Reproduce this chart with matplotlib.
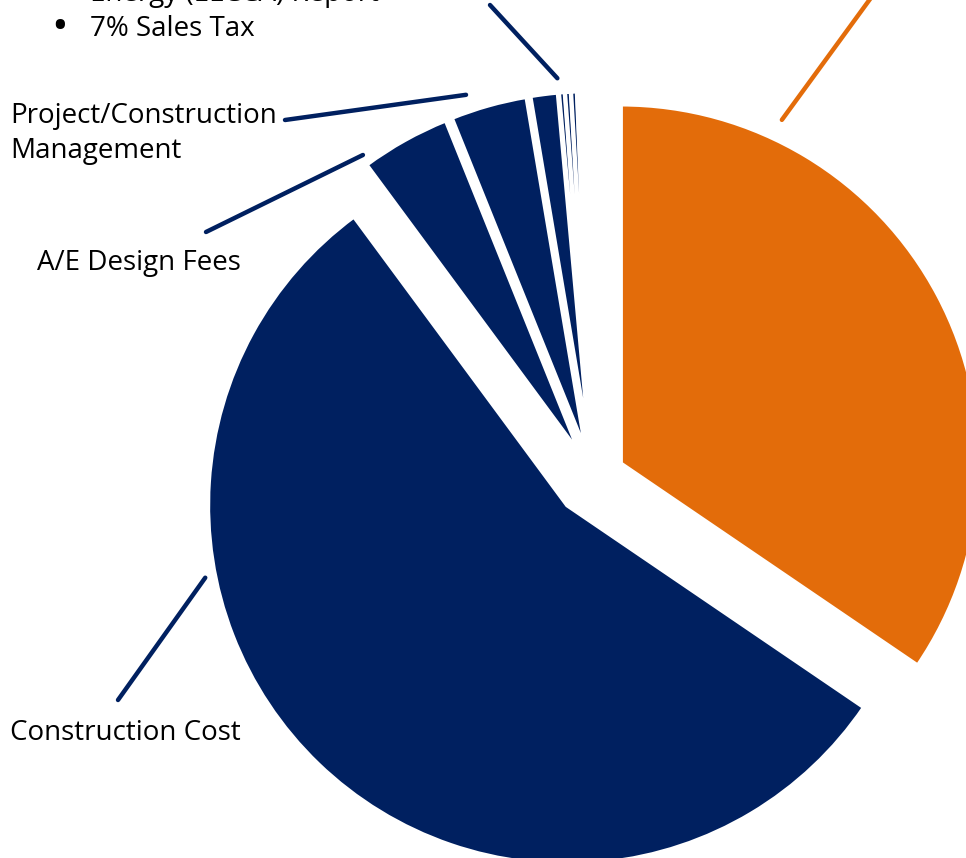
import matplotlib.pyplot as plt
import numpy as np

W, H = 966, 858

# slice shares in %, clockwise from 12 o'clock
names = ["(label outside frame)", "Construction Cost", "A/E Design Fees",
         "Project/Construction Management", "Minor item 1", "Minor item 2",
         "Minor item 3", "Minor item 4", "Minor item 5", "Minor item 6",
         "Minor item 7", "Minor item 8"]
shares = [34.5, 55.35, 4.03, 3.44, 1.22, 0.25, 0.25, 0.25, 0.17, 0.17, 0.17, 0.17]

NAVY = "#002060"
ORANGE = "#E36C0A"
colors = [ORANGE] + [NAVY] * (len(shares) - 1)
explode = [31, 38, 28, 28, 28, 28, 28, 28, 28, 28, 28, 28]  # pixels

plt.rcParams['font.family'] = ['Open Sans', 'DejaVu Sans']

fig = plt.figure(figsize=(W / 100, H / 100), dpi=100)
ax = fig.add_axes([0, 0, 1, 1])

# pie centre / radius in pixel units (y up)
cx, cy = 593.5, H - 478
R = 359
wedges, _ = ax.pie(shares, colors=colors, startangle=90, counterclock=False,
                   center=(cx, cy), radius=R, explode=explode,
                   wedgeprops=dict(edgecolor="white", linewidth=2.9))

ax.set_xlim(0, W)
ax.set_ylim(0, H)
ax.set_aspect("equal")
ax.axis("off")


def arc_point(w, ang, k):
    x0, y0 = w.center
    a = np.radians(ang)
    return (x0 + w.r * k * np.cos(a), y0 + w.r * k * np.sin(a))


# leader lines: slice, anchor angle, radius factor, far end (pixels from top-left)
leaders = [
    (0, 64.9, 1.057, (900, -42), ORANGE),
    (1, 191.3, 1.028, (118, 700), NAVY),
    (2, 126.0, 1.028, (206, 232), NAVY),
    (3, 108.6, 1.047, (285, 120), NAVY),
    (5, 95.2, 1.04, (490, 5), NAVY),
]
for i, ang, k, (tx, ty), col in leaders:
    ax.annotate("", xy=arc_point(wedges[i], ang, k), xytext=(tx, H - ty),
                arrowprops=dict(arrowstyle="-", color=col, lw=3.2,
                                shrinkA=0, shrinkB=0))

fs = 20
ax.text(10, H - 740, "Construction Cost", fontsize=fs, ha="left", va="baseline")
ax.text(37, H - 270, "A/E Design Fees", fontsize=fs, ha="left", va="baseline")
ax.text(10, H - 123, "Project/Construction", fontsize=fs, ha="left", va="baseline")
ax.text(10, H - 158, "Management", fontsize=fs, ha="left", va="baseline")
ax.text(90, H - 1, "Energy (ELCCA) Report", fontsize=fs, ha="left", va="baseline")
ax.text(90, H - 36, "7% Sales Tax", fontsize=fs, ha="left", va="baseline")
ax.text(60, H - 40, "•", fontsize=32, ha="center", va="baseline")

fig.savefig("out.png", dpi=100)
